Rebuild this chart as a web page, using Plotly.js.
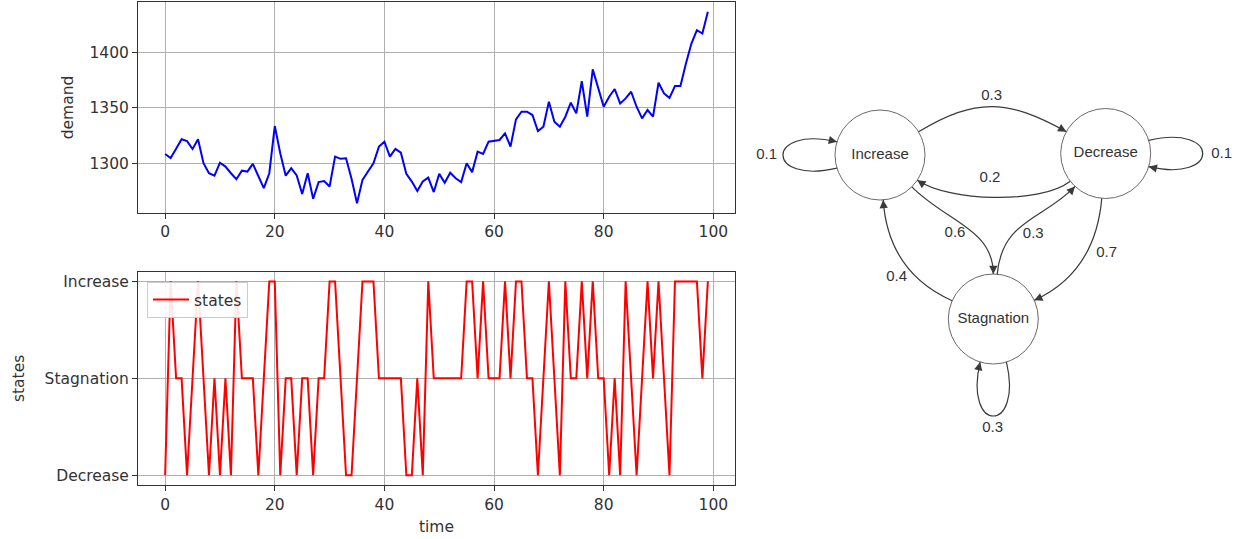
<!DOCTYPE html>
<html><head><meta charset="utf-8">
<script src="https://cdn.plot.ly/plotly-3.0.1.min.js"></script>
<style>html,body{margin:0;padding:0;background:#fff;}#chart{width:1241px;height:539px;}</style>
</head><body><div id="chart"></div>
<script>
// ---------- data ----------
const timeSteps = [0,1,2,3,4,5,6,7,8,9,10,11,12,13,14,15,16,17,18,19,20,21,22,23,24,25,26,27,28,29,
30,31,32,33,34,35,36,37,38,39,40,41,42,43,44,45,46,47,48,49,50,51,52,53,54,55,56,57,58,59,
60,61,62,63,64,65,66,67,68,69,70,71,72,73,74,75,76,77,78,79,80,81,82,83,84,85,86,87,88,89,
90,91,92,93,94,95,96,97,98,99];
const demand = [1308.4,1304.8,1313,1321.6,1320,1312.9,1321.6,1300,1291,1288.8,
1300.5,1297,1291,1285.6,1293.3,1292.5,1299.4,1289,1277.5,1291,
1333.6,1309,1288.8,1295.5,1289,1272.3,1291,1268,1283,1284,
1279,1306,1304,1304.5,1286,1264,1285,1292.5,1300,1315,
1319.5,1306,1313,1309.5,1290.4,1283.5,1275,1283.5,1287,1274,
1290.4,1282.5,1291.5,1286.5,1283,1300,1292,1310.5,1308.4,1319.5,
1320,1321,1327,1315,1339.6,1346.5,1346.5,1343.5,1329,1333,
1355.5,1337.5,1333,1342,1354.6,1345,1374,1342,1384.7,1367.6,
1351,1360,1367,1354,1358.5,1364.5,1351,1340.5,1348,1342,
1372.6,1363,1359,1369.6,1369.6,1390,1408,1420,1417,1436.6];
const stateOrder = ['Decrease','Stagnation','Increase'];
const states = ['Decrease','Increase','Stagnation','Stagnation','Decrease','Stagnation','Increase','Stagnation','Decrease','Stagnation',
'Decrease','Stagnation','Decrease','Increase','Stagnation','Stagnation','Stagnation','Decrease','Stagnation','Increase',
'Increase','Decrease','Stagnation','Stagnation','Decrease','Stagnation','Stagnation','Decrease','Stagnation','Stagnation',
'Increase','Increase','Stagnation','Decrease','Decrease','Stagnation','Increase','Increase','Increase','Stagnation',
'Stagnation','Stagnation','Stagnation','Stagnation','Decrease','Decrease','Stagnation','Decrease','Increase','Stagnation',
'Stagnation','Stagnation','Stagnation','Stagnation','Stagnation','Increase','Increase','Stagnation','Increase','Stagnation',
'Stagnation','Stagnation','Increase','Stagnation','Increase','Increase','Stagnation','Stagnation','Decrease','Stagnation',
'Increase','Stagnation','Decrease','Increase','Stagnation','Stagnation','Increase','Stagnation','Increase','Stagnation',
'Stagnation','Decrease','Stagnation','Decrease','Increase','Stagnation','Decrease','Stagnation','Increase','Stagnation',
'Increase','Stagnation','Decrease','Increase','Increase','Increase','Increase','Increase','Stagnation','Increase'];
const xTicks = [0,20,40,60,80,100];
const demandTicks = [1300,1350,1400];

// Markov chain diagram
const nodeNames = ['Increase','Decrease','Stagnation'];
const transFrom = ['Increase','Increase','Increase','Decrease','Decrease','Decrease','Stagnation','Stagnation','Stagnation'];
const transTo   = ['Increase','Decrease','Stagnation','Increase','Decrease','Stagnation','Increase','Decrease','Stagnation'];
const transProb = [0.1,0.3,0.6,0.2,0.1,0.7,0.4,0.3,0.3];

// ---------- diagram geometry (layout only, pixel units of the overlay axes) ----------
const nodePos = {Increase:[880,155], Decrease:[1105.7,153.5], Stagnation:[993.3,319]};
const nodeR = 45;
// per edge: [startAngle, endAngle, startPull, endPull] or loop direction angle
const edgeGeom = [
  {loop:180}, [-31,-151,67,67], [45,-90,50,45],
  [142,34,38,38], {loop:0}, [95,-24.5,50,45],
  [-156,86,45,50], [-85,133,55,45], {loop:90}
];
const edgeLabelPos = [[766.7,155],[991.7,96.7],[955,233.3],[990,178.3],[1221.7,154],[1106.7,253.3],[896.7,277.3],[1033.3,234],[992.7,428.3]];

function dirv(a){const r=a*Math.PI/180;return [Math.cos(r),Math.sin(r)];}
function onCircle(n,a){const c=nodePos[n],d=dirv(a);return [c[0]+nodeR*d[0],c[1]+nodeR*d[1]];}

const shapes = [];
const annotations = [];
const lineCol = '#3a3a3a';
nodeNames.forEach(n=>{
  const c=nodePos[n];
  shapes.push({type:'circle',xref:'x3',yref:'y3',x0:c[0]-nodeR,x1:c[0]+nodeR,y0:c[1]-nodeR,y1:c[1]+nodeR,
    line:{color:'#6a6a6a',width:1},fillcolor:'rgba(0,0,0,0)'});
});
transFrom.forEach((f,i)=>{
  const t=transTo[i], g=edgeGeom[i];
  let P0,C1,C2,P3;
  if(g.loop!==undefined){
    const th=g.loop, s=17, Lc=115, w=30, c=nodePos[f];
    const u=dirv(th), p=dirv(th-90);
    P0=onCircle(f,th-s); P3=onCircle(f,th+s);
    C1=[c[0]+Lc*u[0]+w*p[0], c[1]+Lc*u[1]+w*p[1]];
    C2=[c[0]+Lc*u[0]-w*p[0], c[1]+Lc*u[1]-w*p[1]];
  } else {
    P0=onCircle(f,g[0]); P3=onCircle(t,g[1]);
    const d0=dirv(g[0]), d1=dirv(g[1]);
    C1=[P0[0]+g[2]*d0[0],P0[1]+g[2]*d0[1]];
    C2=[P3[0]+g[3]*d1[0],P3[1]+g[3]*d1[1]];
  }
  shapes.push({type:'path',xref:'x3',yref:'y3',
    path:`M${P0[0]},${P0[1]} C${C1[0]},${C1[1]} ${C2[0]},${C2[1]} ${P3[0]},${P3[1]}`,
    line:{color:lineCol,width:1.2}});
  const dx=P3[0]-C2[0], dy=P3[1]-C2[1], L=Math.hypot(dx,dy);
  annotations.push({xref:'x3',yref:'y3',axref:'x3',ayref:'y3',x:P3[0],y:P3[1],
    ax:P3[0]-7*dx/L, ay:P3[1]-7*dy/L, text:'', showarrow:true, arrowhead:2, arrowsize:1.5,
    arrowwidth:1.1, arrowcolor:lineCol, standoff:0});
});

// ---------- traces ----------
const tickFont = {family:'DejaVu Sans, sans-serif', size:15.5, color:'#333'};
const traces = [
  {type:'scatter',mode:'lines',x:timeSteps,y:demand,xaxis:'x',yaxis:'y',
   line:{color:'#0000ff',width:2},showlegend:false,name:'demand'},
  {type:'scatter',mode:'lines',x:timeSteps,y:states,xaxis:'x2',yaxis:'y2',
   line:{color:'#ff0000',width:2},showlegend:true,name:'states'},
  {type:'scatter',mode:'text',x:nodeNames.map(n=>nodePos[n][0]),y:nodeNames.map(n=>nodePos[n][1]),
   text:nodeNames,xaxis:'x3',yaxis:'y3',showlegend:false,cliponaxis:false,
   textfont:{family:'Liberation Sans, Arial, sans-serif',size:15,color:'#333'}},
  {type:'scatter',mode:'text',x:edgeLabelPos.map(p=>p[0]),y:edgeLabelPos.map(p=>p[1]),
   text:transProb.map(p=>p.toFixed(1)),xaxis:'x3',yaxis:'y3',showlegend:false,cliponaxis:false,
   textfont:{family:'Liberation Sans, Arial, sans-serif',size:15,color:'#333'}}
];

const W=1241,H=539;
const axCommon = {showgrid:true,gridcolor:'#b0b0b0',gridwidth:1,showline:true,mirror:true,
  linecolor:'#333',linewidth:1,ticks:'outside',ticklen:5,tickwidth:1,tickcolor:'#333',
  zeroline:false,tickfont:tickFont,automargin:false};
const xDom=[138/W,735/W];
const layout = {
  width:W,height:H,margin:{l:0,r:0,t:0,b:0,autoexpand:false},paper_bgcolor:'#fff',plot_bgcolor:'rgba(0,0,0,0)',
  hovermode:false,showlegend:true,
  font:{family:'DejaVu Sans, sans-serif',size:15.5,color:'#333'},
  xaxis:Object.assign({},axCommon,{domain:xDom,anchor:'y',range:[-4.95,103.95],tickvals:xTicks}),
  yaxis:Object.assign({},axCommon,{domain:[1-212.7/H,1-2.3/H],anchor:'x',range:[1255.4,1445.2],tickvals:demandTicks,
    automargin:true,title:{text:'demand',font:tickFont,standoff:12}}),
  xaxis2:Object.assign({},axCommon,{domain:xDom,anchor:'y2',range:[-4.95,103.95],tickvals:xTicks,
    automargin:true,title:{text:'time',font:tickFont,standoff:8}}),
  yaxis2:Object.assign({},axCommon,{domain:[1-485/H,1-271.7/H],anchor:'x2',type:'category',
    categoryorder:'array',categoryarray:stateOrder,range:[-0.1,2.1],
    automargin:true,title:{text:'states',font:tickFont,standoff:16}}),
  xaxis3:{domain:[0,1],anchor:'y3',range:[0,W],visible:false,fixedrange:true},
  yaxis3:{domain:[0,1],anchor:'x3',range:[H,0],visible:false,fixedrange:true},
  legend:{x:147/W,y:1-282/H,xanchor:'left',yanchor:'top',bgcolor:'rgba(255,255,255,0.9)',
    bordercolor:'#cccccc',borderwidth:1,font:tickFont,itemwidth:36},
  shapes:shapes,annotations:annotations
};
Plotly.newPlot('chart',traces,layout,{displayModeBar:false,staticPlot:true});
</script></body></html>
